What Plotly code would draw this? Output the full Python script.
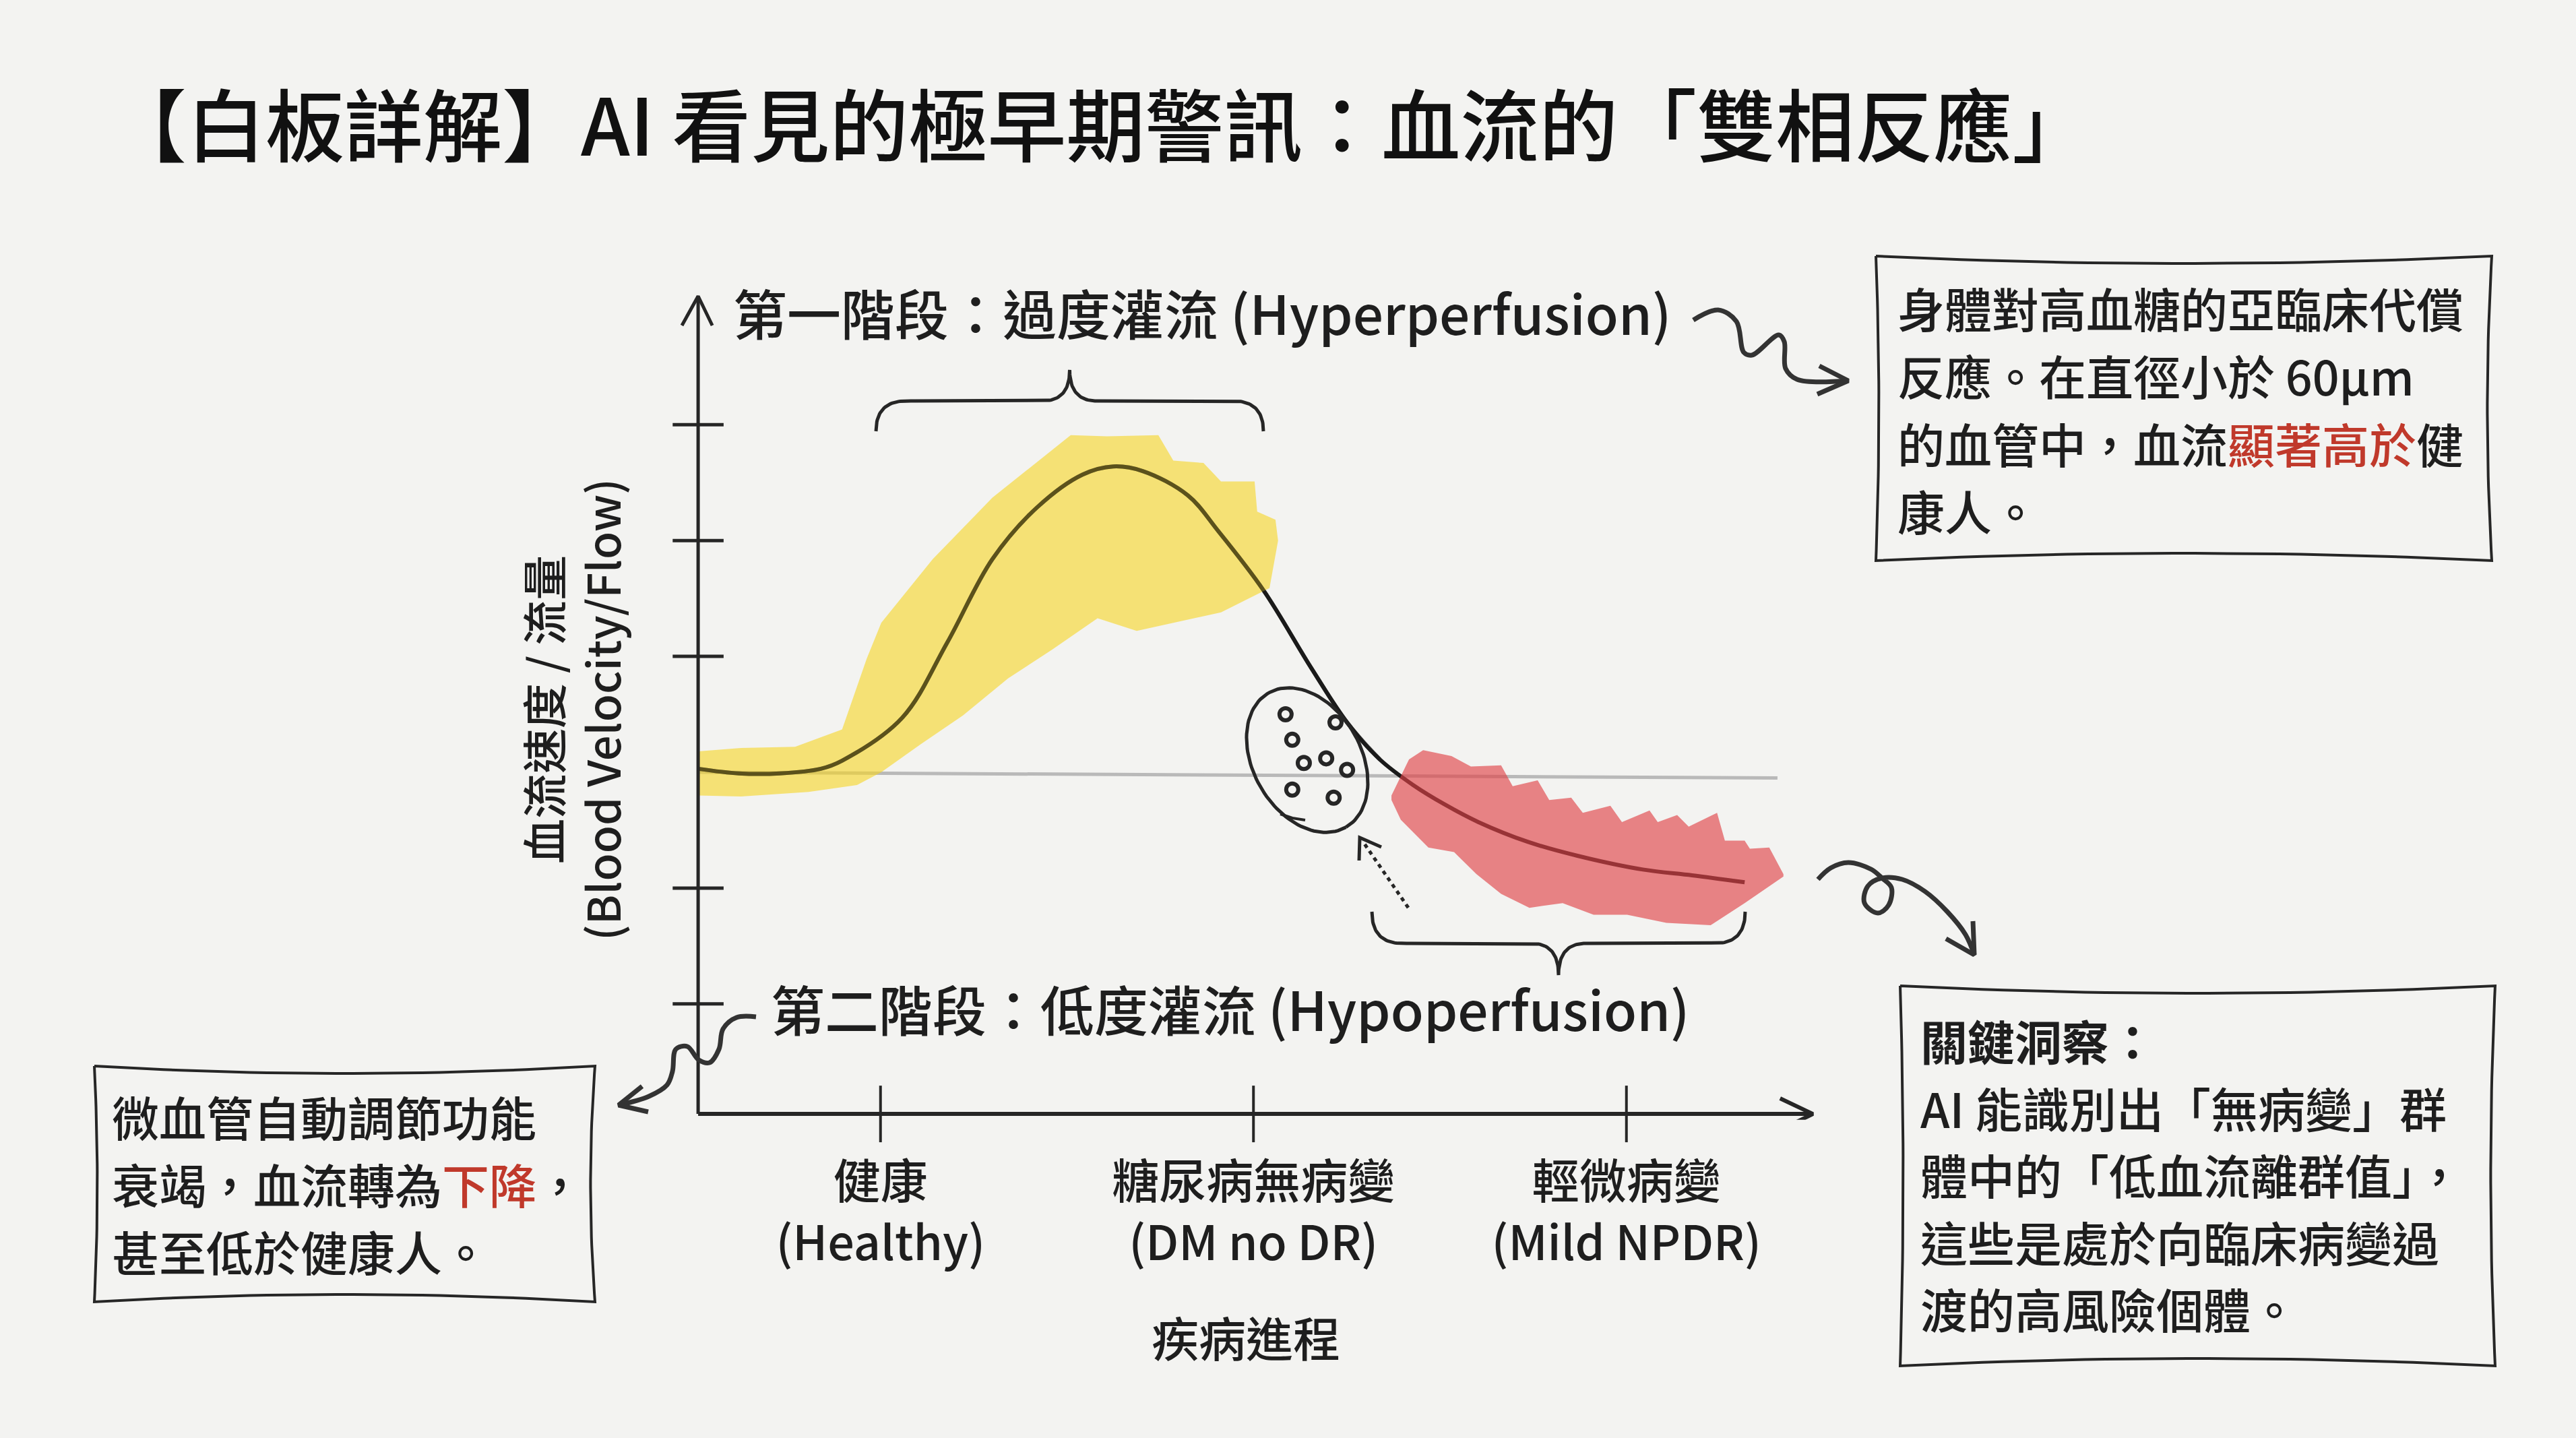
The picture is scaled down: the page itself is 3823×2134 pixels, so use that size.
import numpy as np
import plotly.graph_objects as go

W, H = 3823, 2134
FONT = "Noto Sans CJK TC"
INK = "#262626"
BG = "#f3f3f1"

# ---------------- data ----------------
stage_vals = [1, 2, 3]
stage_labels = ["健康<br>(Healthy)", "糖尿病無病變<br>(DM no DR)", "輕微病變<br>(Mild NPDR)"]
y_tick_vals = [3, 2, 1, -1, -2]

curve_x = [0.511, 0.62, 0.73, 0.84, 0.897, 1.058, 1.179, 1.300, 1.421, 1.542, 1.624, 1.703,
           1.824, 1.906, 2.027, 2.155, 2.251, 2.339, 2.428, 2.514, 2.603, 2.735, 2.867, 3.044,
           3.176, 3.317]
curve_y = [0.03, -0.01, -0.01, 0.03, 0.10, 0.47, 1.12, 1.84, 2.29, 2.57, 2.64, 2.60,
           2.39, 2.08, 1.57, 0.90, 0.43, 0.11, -0.11, -0.28, -0.43, -0.60, -0.72, -0.84,
           -0.89, -0.95]

baseline_x = [0.511, 3.405]
baseline_y = [0.0, -0.05]

outlier_x = [2.086, 2.104, 2.135, 2.195, 2.251, 2.104, 2.215, 2.220]
outlier_y = [0.50, 0.28, 0.08, 0.12, 0.02, -0.15, -0.22, 0.43]

hyper_band_x = [0.511, 0.626, 0.771, 0.897, 0.963, 1.002, 1.140, 1.300, 1.510, 1.607, 1.745,
                1.785, 1.866, 1.913, 2.003, 2.010, 2.059, 2.066,
                2.043, 1.913, 1.687, 1.582, 1.461, 1.342, 1.221, 1.107, 1.002, 0.937, 0.807,
                0.626, 0.511]
hyper_band_y = [0.18, 0.21, 0.22, 0.37, 0.98, 1.29, 1.84, 2.37, 2.91, 2.90, 2.91,
                2.69, 2.67, 2.51, 2.51, 2.25, 2.18, 2.00,
                1.59, 1.38, 1.22, 1.33, 1.06, 0.81, 0.49, 0.24, 0.0, -0.11, -0.17,
                -0.21, -0.20]

hypo_band_x = [2.370, 2.417, 2.455, 2.531, 2.583, 2.664, 2.695, 2.762, 2.793, 2.852, 2.883,
               2.957, 2.988, 3.062, 3.084, 3.136, 3.167, 3.243, 3.264, 3.317, 3.331, 3.383,
               3.421, 3.421, 3.317, 3.226, 3.107, 3.002, 2.912, 2.829, 2.740, 2.664, 2.598,
               2.538, 2.469, 2.395, 2.370]
hypo_band_y = [-0.20, 0.11, 0.19, 0.14, 0.05, 0.06, -0.12, -0.07, -0.24, -0.22, -0.35,
               -0.29, -0.43, -0.33, -0.43, -0.37, -0.47, -0.35, -0.59, -0.59, -0.66, -0.65,
               -0.88, -0.90, -1.13, -1.32, -1.30, -1.23, -1.23, -1.13, -1.17, -1.05, -0.88,
               -0.69, -0.65, -0.41, -0.24]

axis_x0, axis_x_end, axis_y0, axis_y_end = 0.511, 3.5, -2.95, 4.11

# ---------------- layout geometry ----------------
X_RANGE = [0.4, 3.6]
Y_RANGE = [-3.0, 4.35]
X0PX, XS = 1030.0, 553.5
Y0PX, YS = 1146.0, 171.9
px = lambda v: X0PX + (v - 0.5) * XS
py = lambda v: Y0PX - v * YS
x_dom = [px(X_RANGE[0]) / W, px(X_RANGE[1]) / W]
y_dom = [1 - py(Y_RANGE[0]) / H, 1 - py(Y_RANGE[1]) / H]

fig = go.Figure()

def main_line(x, y, color=INK, width=5, dash=None, opacity=1.0, shape="linear"):
    fig.add_trace(go.Scatter(x=x, y=y, mode="lines", hoverinfo="skip", opacity=opacity,
                             line=dict(color=color, width=width, dash=dash, shape=shape),
                             xaxis="x", yaxis="y"))

# baseline (healthy level)
main_line(baseline_x, baseline_y, color="#b9b9b9", width=5)
# main curve (under highlighter)
main_line(curve_x, curve_y, color="#1a1a1a", width=6, shape="spline")

# highlighter bands
fig.add_trace(go.Scatter(x=hyper_band_x, y=hyper_band_y, mode="lines", fill="toself",
                         fillcolor="rgba(247,214,35,0.60)", line=dict(width=0),
                         hoverinfo="skip", xaxis="x", yaxis="y"))
fig.add_trace(go.Scatter(x=hypo_band_x, y=hypo_band_y, mode="lines", fill="toself",
                         fillcolor="rgba(224,66,70,0.64)", line=dict(width=0),
                         hoverinfo="skip", xaxis="x", yaxis="y"))
# ink on top of yellow
n_top = 18
main_line(curve_x[:n_top], curve_y[:n_top], color="#1a1a1a", width=6, opacity=0.5, shape="spline")

# axes lines with arrows
main_line([axis_x0, axis_x_end], [axis_y0, axis_y0], width=6)
main_line([axis_x0, axis_x0], [axis_y0, axis_y_end], width=5)
main_line([3.412, axis_x_end, 3.412], [-2.816, axis_y0, -3.089], width=6)
main_line([0.4675, axis_x0, 0.549], [3.857, axis_y_end, 3.857], width=5)

# tick marks
fig.add_trace(go.Scatter(x=stage_vals, y=[axis_y0] * len(stage_vals), mode="markers",
                         cliponaxis=False, hoverinfo="skip",
                         marker=dict(symbol="line-ns", size=60, line=dict(color=INK, width=4)),
                         xaxis="x", yaxis="y"))
fig.add_trace(go.Scatter(x=[axis_x0] * len(y_tick_vals), y=y_tick_vals, mode="markers",
                         cliponaxis=False, hoverinfo="skip",
                         marker=dict(symbol="line-ew", size=54, line=dict(color=INK, width=5)),
                         xaxis="x", yaxis="y"))

# outliers
fig.add_trace(go.Scatter(x=outlier_x, y=outlier_y, mode="markers", hoverinfo="skip",
                         marker=dict(symbol="circle", size=18, color=BG,
                                     line=dict(color=INK, width=6)),
                         xaxis="x", yaxis="y"))

# ---------------- decorations (pixel overlay) ----------------
def deco(x, y, width=5, color=INK, dash=None, shape="linear"):
    fig.add_trace(go.Scatter(x=list(x), y=list(y), mode="lines", hoverinfo="skip",
                             line=dict(color=color, width=width, dash=dash, shape=shape),
                             xaxis="x2", yaxis="y2"))

def quad(p0, p1, p2, n=30):
    t = np.linspace(0, 1, n)
    x = (1 - t) ** 2 * p0[0] + 2 * (1 - t) * t * p1[0] + t ** 2 * p2[0]
    y = (1 - t) ** 2 * p0[1] + 2 * (1 - t) * t * p1[1] + t ** 2 * p2[1]
    return x, y

def brace(x0, x1, y_end, y_bar, y_tip, r=45, rm=40):
    xc = (x0 + x1) / 2
    segs = [quad((x0, y_end), (x0, y_bar), (x0 + r, y_bar)),
            quad((x0 + r, y_bar), ((x0 + xc) / 2, y_bar), (xc - rm, y_bar)),
            quad((xc - rm, y_bar), (xc, y_bar), (xc, y_tip)),
            quad((xc, y_tip), (xc, y_bar), (xc + rm, y_bar)),
            quad((xc + rm, y_bar), ((xc + x1) / 2, y_bar), (x1 - r, y_bar)),
            quad((x1 - r, y_bar), (x1, y_bar), (x1, y_end))]
    xs = np.concatenate([s[0] for s in segs]); ys = np.concatenate([s[1] for s in segs])
    deco(xs, ys, width=5)

brace(1300, 1875, 640, 595, 549)
brace(2036, 2590, 1353, 1400, 1447)

def box(x0, y0, x1, y1, bow=11):
    segs = [quad((x0, y0), ((x0 + x1) / 2, y0 + 2 * bow), (x1, y0)),
            quad((x1, y0), (x1 - 1.2 * bow, (y0 + y1) / 2), (x1, y1)),
            quad((x1, y1), ((x0 + x1) / 2, y1 - 2 * bow), (x0, y1)),
            quad((x0, y1), (x0 + 0.8 * bow, (y0 + y1) / 2), (x0, y0))]
    xs = np.concatenate([s[0] for s in segs]); ys = np.concatenate([s[1] for s in segs])
    deco(xs, ys, width=4)

box(2784, 380, 3698, 832)
box(2820, 1463, 3703, 2027)
box(140, 1582, 883, 1932)

# wavy arrows
deco([2513, 2550, 2577, 2588, 2600, 2640, 2648, 2650, 2667, 2743],
     [475, 460, 477, 523, 527, 497, 507, 547, 563, 565], width=7, color="#333", shape="spline")
deco([2700, 2743, 2697], [543, 565, 585], width=7, color="#333")

deco([2698, 2717, 2743, 2777, 2793, 2807, 2803, 2787, 2767, 2772, 2793, 2823, 2857, 2890, 2917, 2930],
     [1305, 1288, 1280, 1290, 1303, 1317, 1343, 1355, 1340, 1315, 1303, 1305, 1323, 1353, 1387, 1417],
     width=7, color="#333", shape="spline")
deco([2928, 2930, 2888], [1367, 1417, 1393], width=7, color="#333")

deco([1122, 1093, 1073, 1067, 1053, 1037, 1020, 1003, 998, 990, 963, 918],
     [1509, 1510, 1527, 1557, 1577, 1573, 1553, 1557, 1590, 1610, 1627, 1640],
     width=7, color="#333", shape="spline")
deco([953, 918, 962], [1612, 1640, 1650], width=7, color="#333")

# outlier ellipse
t = np.linspace(0, 2 * np.pi, 120)
th = np.deg2rad(60)
ex = 1940 + 115 * np.cos(t) * np.cos(th) - 80 * np.sin(t) * np.sin(th)
ey = 1128 + 115 * np.cos(t) * np.sin(th) + 80 * np.sin(t) * np.cos(th)
deco(ex, ey, width=5)
deco([1900, 1918, 1937], [1208, 1214, 1217], width=4)

# dashed pointer
deco([2090, 2022], [1347, 1248], width=5, dash="6px,6px")
deco([2050, 2018, 2017], [1257, 1243, 1277], width=5)

# ---------------- text ----------------
ann = []
DX, DY = -4, -4
def txt(x, y, s, size=70, xanchor="left", color="#1e1e1e", weight=500, angle=0, shift=True):
    if shift:
        x, y = x + DX, y + DY
    ann.append(dict(x=x, y=y, xref="x2", yref="y2", text=s, showarrow=False,
                    xanchor=xanchor, yanchor="middle", textangle=angle, align="center",
                    font=dict(family=FONT, size=size, color=color, weight=weight)))

RED = "#c0392b"
txt(158, 180, "【白板詳解】AI 看見的極早期警訊：血流的「雙相反應」", size=117, weight=500,
    color="#111", shift=False)
txt(1090, 466, "第一階段：過度灌流 (Hyperperfusion)", size=80)
txt(1146, 1499, "第二階段：低度灌流 (Hypoperfusion)", size=80)
txt(848, 1053, "血流速度 / 流量<br>(Blood Velocity/Flow)", size=67, xanchor="center", angle=-90,
    shift=False)
txt(1853, 1987, "疾病進程", size=70, xanchor="center")

box1 = ["身體對高血糖的亞臨床代償", "反應。在直徑小於 60μm",
        f"的血管中，血流<span style='color:{RED}'>顯著高於</span>健", "康人。"]
for i, s in enumerate(box1):
    txt(2818, 460 + i * 100.5, s)

txt(2852, 1547, "關鍵洞察：", weight="bold")
box2 = ["AI 能識別出「無病變」群", "體中的「低血流離群值」，", "這些是處於向臨床病變過", "渡的高風險個體。"]
for i, s in enumerate(box2):
    txt(2852, 1647 + i * 99.5, s)

box3 = ["微血管自動調節功能", f"衰竭，血流轉為<span style='color:{RED}'>下降</span>，", "甚至低於健康人。"]
for i, s in enumerate(box3):
    txt(168, 1660 + i * 100, s)

fig.update_layout(
    width=W, height=H, margin=dict(l=0, r=0, t=0, b=0),
    paper_bgcolor=BG, plot_bgcolor="rgba(0,0,0,0)", showlegend=False,
    annotations=ann,
    xaxis=dict(domain=x_dom, range=X_RANGE, anchor="y", showgrid=False, zeroline=False,
               showline=False, ticks="", tickvals=stage_vals, ticktext=stage_labels,
               tickfont=dict(family=FONT, size=70, color="#1e1e1e", weight=500),
               ticklabelstandoff=46, fixedrange=True),
    yaxis=dict(domain=y_dom, range=Y_RANGE, anchor="x", showgrid=False, zeroline=False,
               showline=False, showticklabels=False, ticks="", fixedrange=True),
    xaxis2=dict(domain=[0, 1], range=[0, W], anchor="y2", visible=False, fixedrange=True),
    yaxis2=dict(domain=[0, 1], range=[H, 0], anchor="x2", visible=False, fixedrange=True),
)

fig.write_html("out.html", config={"displayModeBar": False},
               post_script=f"document.body.style.margin='0';document.body.style.background='{BG}';"
                           "document.body.style.overflow='hidden';")
